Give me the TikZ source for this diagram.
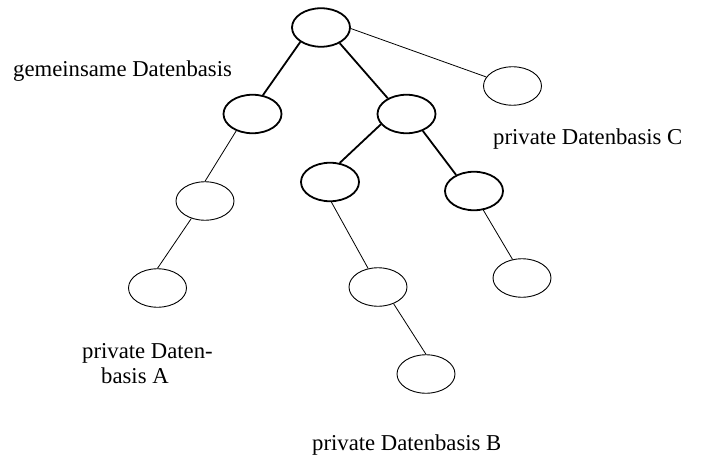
\documentclass[tikz,border=0pt]{standalone}
\usepackage{fontspec}
\setmainfont{Liberation Serif}
\usetikzlibrary{shapes.geometric}
\begin{document}
\begin{tikzpicture}[x=1pt,y=-1pt,
  knot/.style={ellipse,draw,inner sep=0pt,minimum width=58pt,minimum height=38.5pt,line width=0.9pt},
  knotthick/.style={knot,line width=1.8pt},
  thin/.style={line width=0.8pt},
  thick/.style={line width=1.8pt},
  lbl/.style={anchor=base west,inner sep=0pt,font=\fontsize{22.7}{27}\selectfont}]
\useasboundingbox (0,0) rectangle (701,457);
\node[knotthick] (R)  at (321,27.5) {};
\node[knot]      (C)  at (512.5,86) {};
\node[knotthick] (L2) at (252.5,114) {};
\node[knotthick] (R2) at (406.5,114) {};
\node[knotthick] (M)  at (330,182) {};
\node[knotthick] (RR) at (474,191) {};
\node[knot]      (A1) at (205,201) {};
\node[knot]      (A2) at (157.5,288) {};
\node[knot]      (B1) at (378,287) {};
\node[knot]      (B2) at (426,374) {};
\node[knot]      (C2) at (522,278) {};
\draw[thick] (R.215) -- (L2.61);
\draw[thin]  (R.-2) -- (C.161);
\draw[thick] (R.-40) -- (R2.140);
\draw[thin]  (L2.226) -- (A1.90);
\draw[thin]  (A1.232) -- (A2.90);
\draw[thick] (R2.202) -- (M.63);
\draw[thick] (R2.-46) -- (RR.138);
\draw[thin]  (M.-86) -- (B1.118);
\draw[thin]  (B1.-47) -- (B2.90);
\draw[thin]  (RR.-64) -- (C2.117);
\node[lbl] (t1) at (13,77) {gemeinsame Datenbasis};
\node[lbl] (t2) at (493,145) {private Datenbasis C};
\node[lbl] (t3) at (82,358) {private Daten-};
\node[lbl] (t4) at (101,383) {basis A};
\node[lbl] (t5) at (312,450) {private Datenbasis B};
\end{tikzpicture}
\end{document}
